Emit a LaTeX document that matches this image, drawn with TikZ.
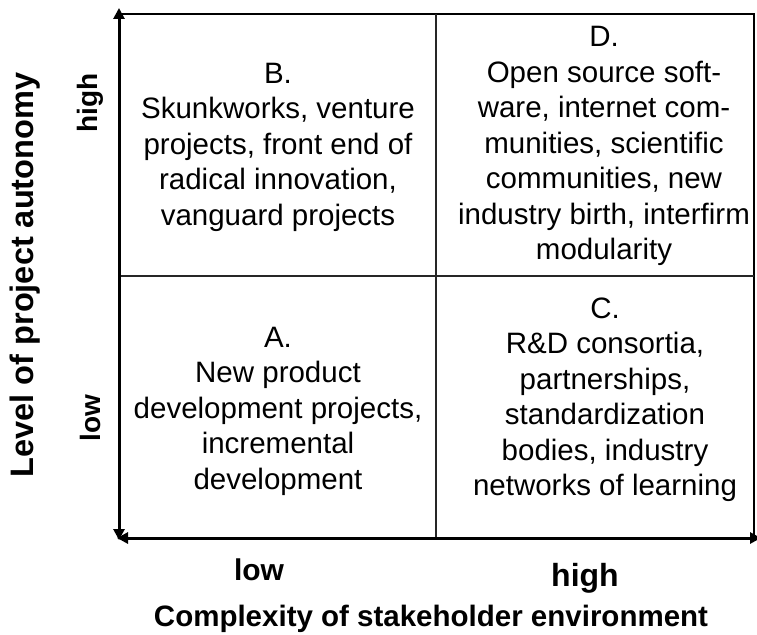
\documentclass[tikz,border=0pt]{standalone}
\usepackage{fontspec}
\setmainfont{Liberation Sans}
\usetikzlibrary{arrows.meta}
\begin{document}
\begin{tikzpicture}[x=1pt,y=-1pt,
  axis/.style={line width=3pt, black, {Triangle[length=11pt,width=11pt]}-{Triangle[length=11pt,width=11pt]}},
  edge/.style={line width=1.5pt, black},
  divider/.style={line width=2.5pt, black!85},
  quad/.style={align=center, inner sep=0pt, font=\fontsize{29.5}{35.5}\selectfont},
  lab/.style={inner sep=0pt, font=\bfseries\fontsize{28}{32}\selectfont}
]
\useasboundingbox (0,0) rectangle (757,634);
% frame corners
\coordinate (tl) at (119,14);
\coordinate (tr) at (754,14);
\coordinate (br) at (754,538);
\coordinate (bl) at (119,538);
\coordinate (tm) at (436,14);
\coordinate (bm) at (436,538);
\coordinate (lm) at (119,276);
\coordinate (rm) at (754,276);
\coordinate (ytop) at (119,8);
\coordinate (ybot) at (119,540);
\coordinate (xleft) at (117,538);
\coordinate (xright) at (761,538);
% box
\draw[edge] (tl) -- (tr) -- (br);
\draw[divider] (tm) -- (bm);
\draw[divider] (lm) -- (rm);
% axes
\draw[axis] (ybot) -- (ytop);
\draw[axis] (xleft) -- (xright);
% quadrant texts
\node[quad] (qb) at (278,147) {B.\\Skunkworks, venture\\projects, front end of\\radical innovation,\\vanguard projects};
\node[quad] (qd) at (604,146) {D.\\Open source soft-\\ware, internet com-\\munities, scientific\\communities, new\\industry birth, interfirm\\modularity};
\node[quad] (qa) at (278,411) {A.\\New product\\development projects,\\incremental\\development};
\node[quad] (qc) at (605,400) {C.\\R\&D consortia,\\partnerships,\\standardization\\bodies, industry\\networks of learning};
% axis labels
\node[lab, rotate=90] (yhigh) at (90,103) {high};
\node[lab, rotate=90] (ylow) at (90,418) {low};
\node[inner sep=0pt, rotate=90, font=\bfseries\fontsize{32.5}{36}\selectfont] (ytitle) at (25,275) {Level of project autonomy};
\node[inner sep=0pt, anchor=base, font=\bfseries\fontsize{30}{34}\selectfont] (xlow) at (259,580) {low};
\node[inner sep=0pt, anchor=base, font=\bfseries\fontsize{32}{36}\selectfont] (xhigh) at (585,586) {high};
\node[inner sep=0pt, anchor=base, font=\bfseries\fontsize{29.5}{34}\selectfont] (xtitle) at (431,626) {Complexity of stakeholder environment};
\end{tikzpicture}
\end{document}
